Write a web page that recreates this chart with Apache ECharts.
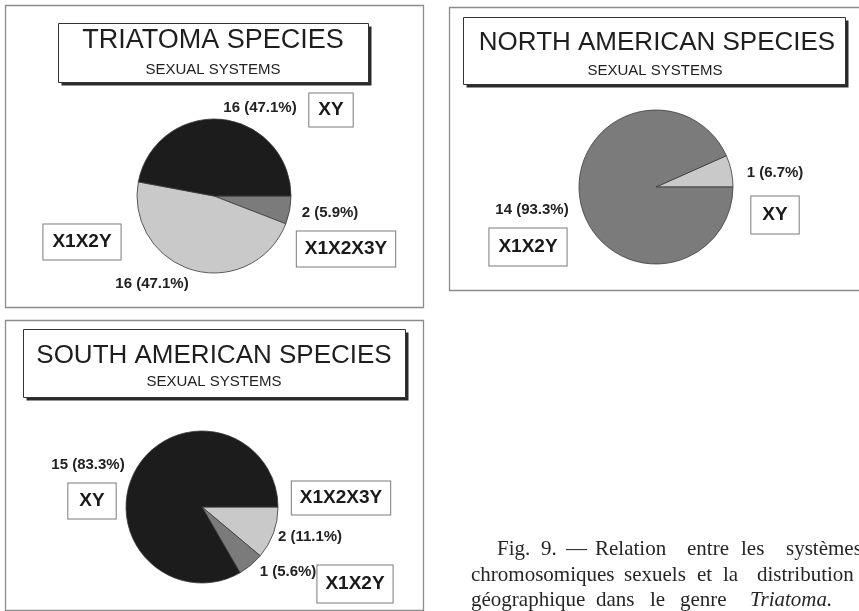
<!DOCTYPE html>
<html>
<head>
<meta charset="utf-8">
<script src="https://cdn.jsdelivr.net/npm/echarts@6/dist/echarts.min.js"></script>
<style>
  html, body { margin: 0; padding: 0; background: #fff; }
  #chart { width: 859px; height: 611px; }
</style>
</head>
<body>
<div id="chart"></div>
<script>
// Sexual chromosome systems in the genus Triatoma, overall and by region
const allNames = ['X1X2X3Y', 'X1X2Y', 'XY'];
const allValues = [2, 16, 16];

const northNames = ['XY', 'X1X2Y'];
const northValues = [1, 14];

const southNames = ['X1X2X3Y', 'X1X2Y', 'XY'];
const southValues = [2, 1, 15];

const panelTitles = ['TRIATOMA SPECIES', 'NORTH AMERICAN SPECIES', 'SOUTH AMERICAN SPECIES'];
const panelSubtitle = 'SEXUAL SYSTEMS';

// caption, word by word (justified setting)
const captionWords = [
  ['Fig.', '9.', '—', 'Relation', 'entre', 'les', 'systèmes'],
  ['chromosomiques', 'sexuels', 'et', 'la', 'distribution'],
  ['géographique', 'dans', 'le', 'genre', 'Triatoma.']
];

// ---- styling ----
const BLACK = '#1c1c1c', MID = '#7b7b7b', LIGHT = '#c9c9c9';
const SANS = '"Liberation Sans", Arial, Helvetica, sans-serif';
const SERIF = '"Liberation Serif", "Times New Roman", serif';

const panels = [
  {
    names: allNames, values: allValues, colors: [MID, LIGHT, BLACK],
    center: [214, 196], radius: 77, clockwise: true,
    valuePos: [[330, 213], [152, 284], [260, 108]],
    namePos: [[346, 249], [82, 242], [331, 110]],
    namePad: [[8, 8], [8, 9], [7, 9]],
    frame: [5.5, 5.5, 418, 302],
    box: [58.5, 23.5, 310, 59], title: [213, 41], sub: [213, 70], titleSize: 27
  },
  {
    names: northNames, values: northValues, colors: [LIGHT, MID],
    center: [656, 187], radius: 77, clockwise: false,
    valuePos: [[775, 173], [532, 210]],
    namePos: [[775, 215], [528, 247]],
    namePad: [[9, 11], [9, 9]],
    frame: [449.5, 7.5, 430, 283],
    box: [463.5, 17.5, 382, 67], title: [657, 43], sub: [655, 71], titleSize: 26
  },
  {
    names: southNames, values: southValues, colors: [LIGHT, MID, BLACK],
    center: [202, 507], radius: 76, clockwise: true,
    valuePos: [[310, 537], [288, 572], [88, 465]],
    namePos: [[341, 498], [355, 584], [92, 501]],
    namePad: [[7, 8], [9, 8], [8, 11]],
    frame: [5.5, 320.5, 418, 290],
    box: [23.5, 329.5, 382, 68], title: [214, 356], sub: [214, 382], titleSize: 26
  }
];

function pct(values, v) {
  const total = values.reduce((a, b) => a + b, 0);
  return (v / total * 100).toFixed(1);
}

const series = [];
panels.forEach((p) => {
  const data = p.names.map((n, i) => ({ name: n, value: p.values[i], itemStyle: { color: p.colors[i] } }));
  // visible pie with the count / percentage labels
  series.push({
    type: 'pie',
    center: p.center,
    radius: p.radius,
    startAngle: 0,
    clockwise: p.clockwise,
    avoidLabelOverlap: false,
    animation: false,
    silent: true,
    z: 3,
    data: data,
    itemStyle: { borderColor: '#3a3a3a', borderWidth: 0.8 },
    label: {
      show: true,
      position: 'outside',
      formatter: (prm) => prm.value + ' (' + pct(p.values, prm.value) + '%)',
      fontFamily: SANS, fontWeight: 'bold', fontSize: 15, color: '#222'
    },
    labelLine: { show: false },
    labelLayout: (prm) => ({
      x: p.valuePos[prm.dataIndex][0], y: p.valuePos[prm.dataIndex][1],
      align: 'center', verticalAlign: 'middle'
    })
  });
  // transparent twin carrying the boxed category names
  series.push({
    type: 'pie',
    center: p.center,
    radius: p.radius,
    startAngle: 0,
    clockwise: p.clockwise,
    avoidLabelOverlap: false,
    animation: false,
    silent: true,
    z: 2,
    data: p.names.map((n, i) => ({ name: n, value: p.values[i], label: { padding: p.namePad[i] } })),
    itemStyle: { color: 'rgba(0,0,0,0)', borderWidth: 0 },
    label: {
      show: true,
      position: 'outside',
      formatter: '{b}',
      fontFamily: SANS, fontWeight: 'bold', fontSize: 19, color: '#1a1a1a',
      backgroundColor: '#fff', borderColor: '#7a7a7a', borderWidth: 1,
      padding: 8
    },
    labelLine: { show: false },
    labelLayout: (prm) => ({
      x: p.namePos[prm.dataIndex][0], y: p.namePos[prm.dataIndex][1],
      align: 'center', verticalAlign: 'middle'
    })
  });
});

const graphics = [];
panels.forEach((p, idx) => {
  const [fx, fy, fw, fh] = p.frame;
  graphics.push({
    type: 'rect', z: 0, silent: true,
    shape: { x: fx, y: fy, width: fw, height: fh },
    style: { fill: 'none', stroke: '#8c8c8c', lineWidth: 1.3 }
  });
  const [bx, by, bw, bh] = p.box;
  // drop shadow of the title box
  graphics.push({
    type: 'rect', z: 1, silent: true,
    shape: { x: bx + 3, y: by + 3, width: bw, height: bh },
    style: { fill: '#2a2a2a' }
  });
  graphics.push({
    type: 'rect', z: 2, silent: true,
    shape: { x: bx, y: by, width: bw, height: bh },
    style: { fill: '#fff', stroke: '#333', lineWidth: 1 }
  });
  graphics.push({
    type: 'text', z: 3, silent: true,
    x: p.title[0], y: p.title[1],
    style: { text: panelTitles[idx], font: p.titleSize + 'px ' + SANS, fill: '#1e1e1e', align: 'center', verticalAlign: 'middle' }
  });
  graphics.push({
    type: 'text', z: 3, silent: true,
    x: p.sub[0], y: p.sub[1],
    style: { text: panelSubtitle, font: '15px ' + SANS, fill: '#222', align: 'center', verticalAlign: 'middle' }
  });
});

// caption word positions
const captionX = [
  [497, 541, 566, 595, 687, 741, 786],
  [471, 624, 697, 723, 757],
  [471, 596, 650, 680, 750]
];
const captionY = [549, 575, 600];
captionWords.forEach((line, li) => {
  line.forEach((w, wi) => {
    const italic = (w === 'Triatoma.');
    graphics.push({
      type: 'text', z: 3, silent: true,
      x: captionX[li][wi], y: captionY[li],
      style: {
        text: w, font: (italic ? 'italic ' : '') + '21px ' + SERIF,
        fill: '#262626', align: 'left', verticalAlign: 'middle'
      }
    });
  });
});

const chart = echarts.init(document.getElementById('chart'), null, { renderer: 'canvas' });
chart.setOption({
  animation: false,
  backgroundColor: '#fff',
  series: series,
  graphic: graphics
});
</script>
</body>
</html>
